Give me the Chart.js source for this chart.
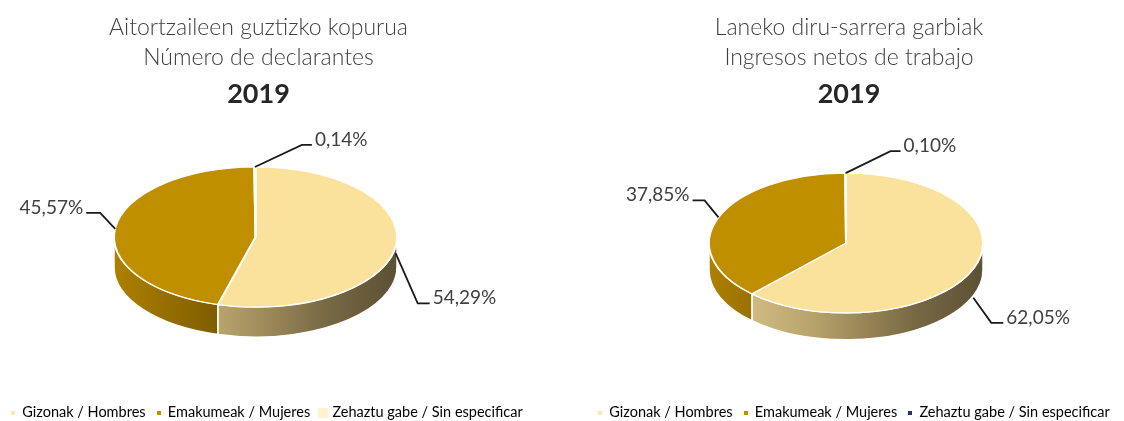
<!DOCTYPE html>
<html>
<head>
<meta charset="utf-8">
<script src="https://cdn.jsdelivr.net/npm/chart.js@4.4.0/dist/chart.umd.min.js"></script>
<style>
  html, body { margin: 0; padding: 0; background: #fff; }
  #wrap { position: relative; width: 1124px; height: 421px; }
  .box { position: absolute; top: 0; width: 562px; height: 421px; }
</style>
</head>
<body>
<div id="wrap">
  <div class="box" style="left:0"><canvas id="chartDeclarantes"></canvas></div>
  <div class="box" style="left:562px"><canvas id="chartIngresos"></canvas></div>
</div>
<script>
// datos
const categories = ['Gizonak / Hombres', 'Emakumeak / Mujeres', 'Zehaztu gabe / Sin especificar'];
const declarantes = [54.29, 45.57, 0.14];
const ingresos = [62.05, 37.85, 0.10];
const titleDeclarantes = ['Aitortzaileen guztizko kopurua', 'Número de declarantes'];
const titleIngresos = ['Laneko diru-sarrera garbiak', 'Ingresos netos de trabajo'];
const year = '2019';

const LIGHT = '#FAE29C', DARK = '#BF8F00';
const sideShades = [
  [[0, '#E0CC90'], [0.37, '#B9A46C'], [0.75, '#786944'], [1, '#5C5035']],
  [[0, '#AE8000'], [0.37, '#7E5D00'], [1, '#584100']],
  [[0, '#C8C8C8'], [1, '#808080']]
];

function square(size, color) {
  const c = document.createElement('canvas');
  c.width = c.height = size;
  const x = c.getContext('2d');
  x.fillStyle = color;
  x.fillRect(0, 0, size, size);
  return c;
}

const fmt = v => v.toFixed(2).replace('.', ',') + '%';

// tarta "3D": cara superior = arcos de Chart.js aplastados, lateral dibujado debajo
const pie3d = {
  id: 'pie3d',
  afterLayout(chart, args, g) {
    chart.chartArea = {
      left: g.cx - g.rx, right: g.cx + g.rx,
      top: g.cy - g.rx, bottom: g.cy + g.rx,
      width: 2 * g.rx, height: 2 * g.rx
    };
    // mover titulos y leyenda (cajas de Chart.js) a su sitio
    chart.boxes.forEach(b => {
      if (b.position === 'top') { b.left += g.titleShift; b.right += g.titleShift; }
      if (b.position === 'bottom') {
        b.left += g.legendShiftX; b.right += g.legendShiftX;
        b.top += g.legendShift; b.bottom += g.legendShift;
      }
    });
  },
  beforeDatasetsDraw(chart, args, g) {
    const ctx = chart.ctx;
    const arcs = chart.getDatasetMeta(0).data;
    arcs.forEach((arc, i) => {
      const { x, y, startAngle, endAngle, outerRadius } =
        arc.getProps(['x', 'y', 'startAngle', 'endAngle', 'outerRadius'], true);
      const a1 = Math.max(startAngle, 0), a2 = Math.min(endAngle, Math.PI);
      if (a2 <= a1) return;
      const ry = outerRadius * g.tilt;
      ctx.save();
      ctx.beginPath();
      ctx.ellipse(x, y, outerRadius, ry, 0, a1, a2);
      ctx.ellipse(x, y + g.depth, outerRadius, ry, 0, a2, a1, true);
      ctx.closePath();
      const grad = ctx.createLinearGradient(x - outerRadius, 0, x + outerRadius, 0);
      g.sides[i].forEach(([p, c]) => grad.addColorStop(p, c));
      ctx.fillStyle = grad;
      ctx.fill();
      ctx.strokeStyle = '#fff';
      ctx.lineWidth = 1.5;
      ctx.stroke();
      ctx.restore();
    });
    const cx = arcs[0].x, cy = arcs[0].y;
    ctx.save();
    ctx.translate(cx, cy);
    ctx.scale(1, g.tilt);
    ctx.translate(-cx, -cy);
  },
  afterDatasetsDraw(chart, args, g) {
    const ctx = chart.ctx;
    ctx.restore();
    const values = chart.data.datasets[0].data;
    chart.getDatasetMeta(0).data.forEach((arc, i) => {
      const { x, y, startAngle, endAngle, outerRadius } =
        arc.getProps(['x', 'y', 'startAngle', 'endAngle', 'outerRadius'], true);
      const m = (startAngle + endAngle) / 2;
      const [ady, edx, edy, tdx] = g.leaders[i];
      const ax = x + outerRadius * Math.cos(m);
      const ay = y + outerRadius * g.tilt * Math.sin(m) + ady;
      const ex = ax + edx, ey = ay + edy, tx = ex + tdx;
      ctx.save();
      ctx.strokeStyle = '#1a1a1a';
      ctx.lineWidth = 1.8;
      ctx.beginPath();
      ctx.moveTo(ax, ay);
      ctx.lineTo(ex, ey);
      ctx.lineTo(tx, ey);
      ctx.stroke();
      ctx.fillStyle = '#404040';
      ctx.font = '19px Lato';
      ctx.textBaseline = 'alphabetic';
      ctx.textAlign = tdx > 0 ? 'left' : 'right';
      ctx.fillText(fmt(values[i]), tx + (tdx > 0 ? 3 : -3), ey + 1);
      ctx.restore();
    });
  }
};

function makeChart(id, values, titleLines, colors, markers, geo) {
  const ctx = document.getElementById(id).getContext('2d');
  return new Chart(ctx, {
    type: 'pie',
    data: {
      labels: categories,
      datasets: [{
        data: values,
        backgroundColor: colors,
        borderColor: '#fff',
        borderWidth: 2,
        radius: geo.rx,
        clip: false
      }]
    },
    options: {
      responsive: true, maintainAspectRatio: false, animation: false, events: [],
      layout: { padding: 0 },
      plugins: {
        tooltip: { enabled: false },
        title: {
          display: true, text: titleLines, color: '#404040',
          font: { family: 'Lato', size: 23, weight: '300', lineHeight: '30px' },
          padding: { top: 13, bottom: 0 }
        },
        subtitle: {
          display: true, text: year, color: '#262626',
          font: { family: 'Lato', size: 27, weight: 'bold', lineHeight: '31px' },
          padding: { top: 6, bottom: 0 }
        },
        legend: {
          position: 'bottom', align: 'start',
          labels: {
            usePointStyle: true, boxWidth: 4, boxHeight: 4, padding: 11,
            color: '#404040', font: { family: 'Lato', size: 14.5 },
            generateLabels: () => categories.map((t, i) => ({
              text: t, pointStyle: markers[i], fillStyle: colors[i],
              strokeStyle: colors[i], lineWidth: 0, hidden: false, index: i, datasetIndex: 0
            }))
          }
        },
        pie3d: geo
      }
    },
    plugins: [pie3d]
  });
}

makeChart('chartDeclarantes', declarantes, titleDeclarantes,
  [LIGHT, DARK, '#FFF2CC'],
  [square(4, '#FCE7AE'), square(4, DARK), square(10, '#FFF2CC')],
  { cx: 255.5, cy: 237, rx: 141.5, tilt: 0.495, depth: 30, sides: sideShades,
    titleShift: -22.5, legendShiftX: 0, legendShift: 9,
    leaders: [[7, 22, 50, 12], [1, -15, -16, -14], [0, 47, -22, 10]] });

makeChart('chartIngresos', ingresos, titleIngresos,
  [LIGHT, DARK, '#203864'],
  [square(4, '#FCE7AE'), square(4, DARK), square(4, '#203864')],
  { cx: 284, cy: 243, rx: 137, tilt: 0.51, depth: 27, sides: sideShades,
    titleShift: 6, legendShiftX: 25, legendShift: 9,
    leaders: [[29, 18, 25, 12], [0, -14, -17, -12], [0, 45, -22, 10]] });
</script>
</body>
</html>
